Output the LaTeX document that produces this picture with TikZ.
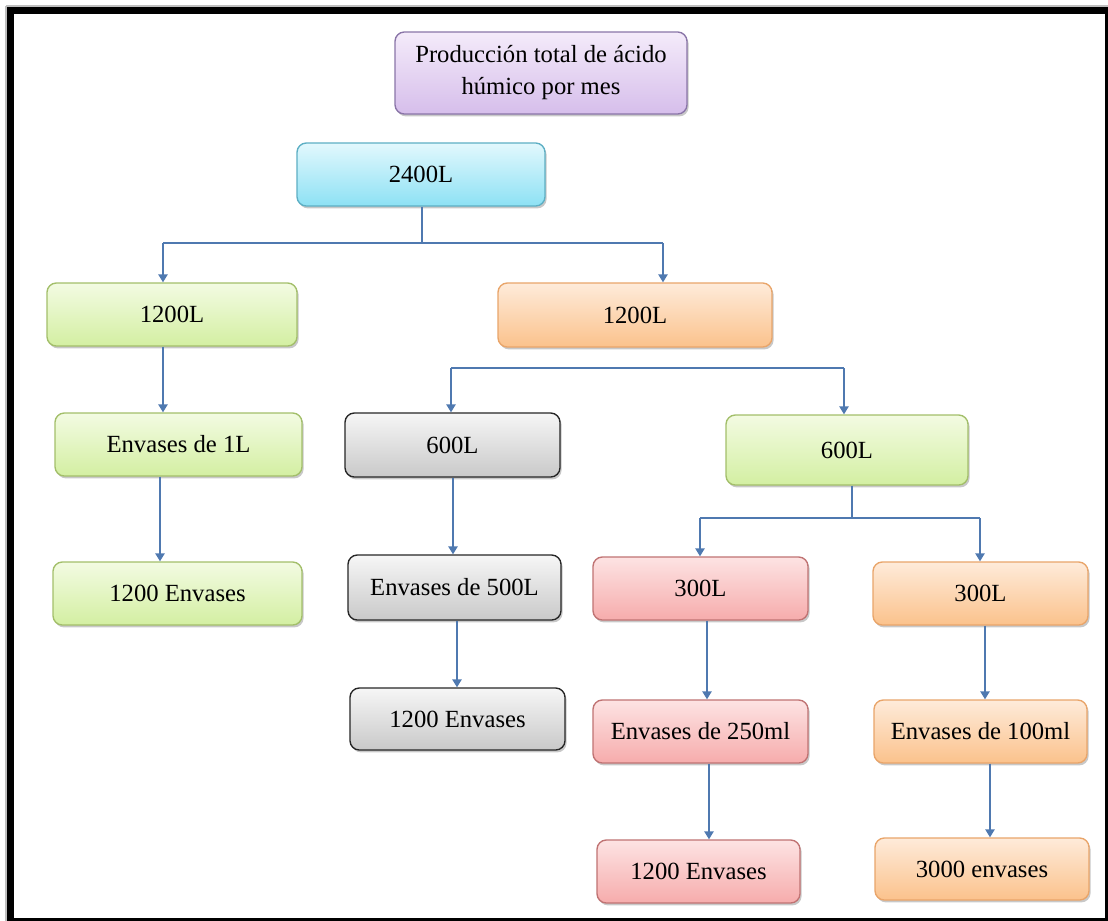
\documentclass[tikz,border=0pt]{standalone}
\usepackage{fontspec}
\setmainfont{Liberation Serif}
\usetikzlibrary{arrows.meta,shadows,calc}

% box palettes: light top, stronger bottom, darker outline
\definecolor{purTop}{HTML}{F4EBFA}\definecolor{purBot}{HTML}{D6BEEB}\definecolor{purLine}{HTML}{8A75A8}
\definecolor{cyaTop}{HTML}{E2F8FD}\definecolor{cyaBot}{HTML}{8DE1F4}\definecolor{cyaLine}{HTML}{5DAFC4}
\definecolor{grnTop}{HTML}{F3FBE2}\definecolor{grnBot}{HTML}{D3EFA2}\definecolor{grnLine}{HTML}{A3BF6A}
\definecolor{orgTop}{HTML}{FEEBDA}\definecolor{orgBot}{HTML}{FBC28C}\definecolor{orgLine}{HTML}{E9A56A}
\definecolor{gryTop}{HTML}{F6F6F6}\definecolor{gryBot}{HTML}{C9C9C9}\definecolor{gryLine}{HTML}{262626}
\definecolor{redTop}{HTML}{FDE3E3}\definecolor{redBot}{HTML}{F6ACAC}\definecolor{redLine}{HTML}{C07373}
\definecolor{linkBlue}{HTML}{4F79B0}

\begin{document}
\begin{tikzpicture}[x=0.75pt,y=-0.75pt,
  box/.style={rounded corners=7pt, line width=1pt, align=center, inner sep=2pt,
    font=\fontsize{18.5}{24}\selectfont,
    drop shadow={shadow xshift=1.2pt, shadow yshift=-1.8pt, opacity=0.3, fill=black!70}},
  sz/.style 2 args={minimum width=#1*0.75pt, minimum height=#2*0.75pt},
  purple box/.style={box, draw=purLine, top color=purTop, bottom color=purBot},
  cyan box/.style={box, draw=cyaLine, top color=cyaTop, bottom color=cyaBot},
  green box/.style={box, draw=grnLine, top color=grnTop, bottom color=grnBot},
  orange box/.style={box, draw=orgLine, top color=orgTop, bottom color=orgBot},
  gray box/.style={box, draw=gryLine, top color=gryTop, bottom color=gryBot},
  red box/.style={box, draw=redLine, top color=redTop, bottom color=redBot},
  link/.style={draw=linkBlue, line width=1.1pt},
  arr/.style={link, -{Triangle[width=7pt,length=6pt]}}
]
\useasboundingbox (0,0) rectangle (1108,921);
\fill[white] (0,0) rectangle (1108,921);

% page frame: heavy top and left edges, thin right and bottom edges
\draw[black!25, line width=0.8pt] (6,6) -- (1108,6);
\draw[black!25, line width=0.8pt] (6,6) -- (6,921);
\fill[black] (7,7) rectangle (1108,14);
\fill[black] (7,7) rectangle (14,921);
\fill[black] (1105,14) rectangle (1108,921);
\fill[black] (14,918) rectangle (1108,921);

% boxes
\node[purple box, sz={292}{82}] (title) at (541,73) {Producción total de ácido\\húmico por mes};
\node[cyan box, sz={248}{63}] (t2400) at (421,174.5) {2400L};

\node[green box, sz={250}{63}] (g1200) at (172,314.5) {1200L};
\node[orange box, sz={274}{64}] (o1200) at (635,315) {1200L};

\node[green box, sz={247}{63}] (env1) at (178.5,444.5) {Envases de 1L};
\node[green box, sz={249}{63}] (gEnv) at (177.5,593.5) {1200 Envases};

\node[gray box, sz={215}{64}] (g600) at (452.5,445) {600L};
\node[gray box, sz={213}{65}] (env500) at (454.5,587.5) {Envases de 500L};
\node[gray box, sz={215}{62}] (grEnv) at (457.5,719) {1200 Envases};

\node[green box, sz={242}{70}] (v600) at (847,450) {600L};

\node[red box, sz={215}{63}] (r300) at (700.5,588.5) {300L};
\node[red box, sz={215}{63}] (env250) at (700.5,731.5) {Envases de 250ml};
\node[red box, sz={203}{63}] (rEnv) at (698.5,871.5) {1200 Envases};

\node[orange box, sz={215}{63}] (o300) at (980.5,593.5) {300L};
\node[orange box, sz={213}{63}] (env100) at (980.5,731.5) {Envases de 100ml};
\node[orange box, sz={214}{62}] (oEnv) at (982,869) {3000 envases};

% first split: 2400L into two halves
\coordinate (j1) at (422,243);
\coordinate (j1L) at (163,243);
\coordinate (j1R) at (663,243);
\draw[link] (t2400.south -| j1) -- (j1);
\draw[link] (j1L) -- (j1R);
\draw[arr] (j1L) -- (j1L |- g1200.north);
\draw[arr] (j1R) -- (j1R |- o1200.north);

% left column: 1 L containers
\coordinate (k1) at (160,0);
\draw[arr] (g1200.south -| j1L) -- (env1.north -| j1L);
\draw[arr] (env1.south -| k1) -- (gEnv.north -| k1);

% second split into two 600 L lots
\coordinate (j2L) at (451,368);
\coordinate (j2R) at (844,368);
\draw[link] (j2L) -- (j2R);
\draw[arr] (j2L) -- (j2L |- g600.north);
\draw[arr] (j2R) -- (j2R |- v600.north);

% gray column: 500 L containers
\coordinate (k2) at (453,0);
\coordinate (k3) at (457,0);
\draw[arr] (g600.south -| k2) -- (env500.north -| k2);
\draw[arr] (env500.south -| k3) -- (grEnv.north -| k3);

% third split into two 300 L lots
\coordinate (j3) at (852,518);
\coordinate (j3L) at (700,518);
\coordinate (j3R) at (980,518);
\draw[link] (v600.south -| j3) -- (j3);
\draw[link] (j3L) -- (j3R);
\draw[arr] (j3L) -- (j3L |- r300.north);
\draw[arr] (j3R) -- (j3R |- o300.north);

% red column: 250 ml containers
\coordinate (k4) at (707,0);
\coordinate (k5) at (709,0);
\draw[arr] (r300.south -| k4) -- (env250.north -| k4);
\draw[arr] (env250.south -| k5) -- (rEnv.north -| k5);

% orange column: 100 ml containers
\coordinate (k6) at (985,0);
\coordinate (k7) at (990,0);
\draw[arr] (o300.south -| k6) -- (env100.north -| k6);
\draw[arr] (env100.south -| k7) -- (oEnv.north -| k7);
\end{tikzpicture}
\end{document}
